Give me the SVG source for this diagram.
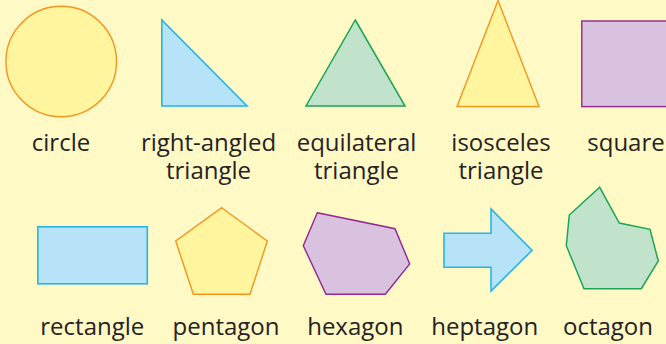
<svg xmlns="http://www.w3.org/2000/svg" width="666" height="344" viewBox="0 0 666 344">
<style>
.lbl{font-family:"Open Sans","Noto Sans","Liberation Sans",sans-serif;font-size:24px;fill:#262222;text-anchor:middle}
.yel{fill:#fff59e;stroke:#f7941d;stroke-width:1.4;stroke-linejoin:miter}
.blu{fill:#b7e3f9;stroke:#27b4e6;stroke-width:1.6;stroke-linejoin:miter}
.grn{fill:#c1e2cb;stroke:#1aa655;stroke-width:1.5;stroke-linejoin:miter}
.pur{fill:#d9c2df;stroke:#92278f;stroke-width:1.4;stroke-linejoin:miter}
</style>
<rect x="0" y="0" width="666" height="344" fill="#fff9c6"/>
<g id="circle">
<circle class="yel" cx="61.2" cy="61.5" r="55.3"/>
<text class="lbl" x="61" y="151">circle</text>
</g>
<g id="right-angled-triangle">
<polygon class="blu" points="161.8,20 161.8,106 247,106"/>
<text class="lbl"><tspan x="208.5" y="151">right-angled</tspan><tspan x="208.5" y="179">triangle</tspan></text>
</g>
<g id="equilateral-triangle">
<polygon class="grn" points="355.3,20 405,106 306,106"/>
<text class="lbl"><tspan x="356.5" y="151">equilateral</tspan><tspan x="356.5" y="179">triangle</tspan></text>
</g>
<g id="isosceles-triangle">
<polygon class="yel" points="498,0.5 539,106.5 457,106.5"/>
<text class="lbl"><tspan x="501" y="151">isosceles</tspan><tspan x="501" y="179">triangle</tspan></text>
</g>
<g id="square">
<rect class="pur" x="581.8" y="21" width="86" height="85.6"/>
<text class="lbl" x="626" y="151">square</text>
</g>
<g id="rectangle">
<rect class="blu" x="37.8" y="226.8" width="109.5" height="57"/>
<text class="lbl" x="92.3" y="335">rectangle</text>
</g>
<g id="pentagon">
<polygon class="yel" points="221.7,207.7 267.3,241 250,294.3 193.3,294.3 175.7,241"/>
<text class="lbl" x="226" y="335">pentagon</text>
</g>
<g id="hexagon">
<polygon class="pur" points="317.3,212.7 395,228.7 409.7,264 385.3,294.3 326,294.3 303.3,245.7"/>
<text class="lbl" x="355.3" y="335">hexagon</text>
</g>
<g id="heptagon">
<polygon class="blu" points="444,233.3 491,233.3 491,209 532,250.3 491,291 491,267.3 444,267.3"/>
<text class="lbl" x="484.7" y="335">heptagon</text>
</g>
<g id="octagon">
<polygon class="grn" points="599.7,187.3 619.3,223 650,229.3 658.3,261 641.3,288.7 584,288.7 566.3,245.7 569.3,215"/>
<text class="lbl" x="608" y="335">octagon</text>
</g>
<g id="connectors"/>
</svg>
